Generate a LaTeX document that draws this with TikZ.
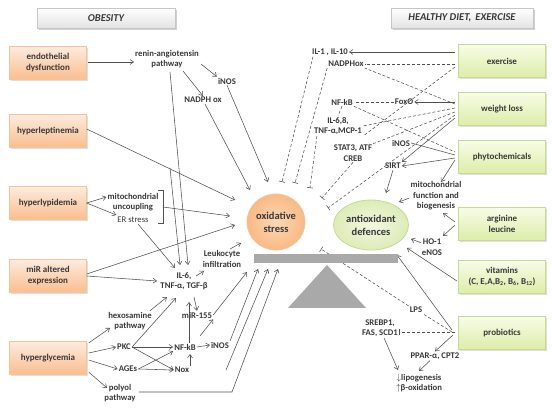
\documentclass[tikz,border=0pt]{standalone}
\usepackage{fontspec}
\setmainfont{Carlito}
\usetikzlibrary{arrows.meta,shadows,shapes.geometric}
\definecolor{txt}{HTML}{383838}
\definecolor{ln}{HTML}{505050}
\definecolor{orL}{HTML}{FDEBDD}
\definecolor{orD}{HTML}{F9BE8E}
\definecolor{orB}{HTML}{F3C39B}
\definecolor{grL}{HTML}{F7FCE8}
\definecolor{grD}{HTML}{DCEDA6}
\definecolor{grB}{HTML}{C6DA94}
\definecolor{osL}{HTML}{FCD8B8}
\definecolor{osD}{HTML}{F9B984}
\definecolor{adL}{HTML}{F2F8E0}
\definecolor{adD}{HTML}{DDEBB8}
\definecolor{beam}{HTML}{A9A9A9}
\tikzset{
  lbl/.style={font=\bfseries\fontsize{8.7}{10.5}\selectfont, text=txt, align=center, inner sep=1pt},
  obox/.style={lbl, font=\bfseries\fontsize{9}{11}\selectfont, draw=orB, top color=orL, bottom color=orD, minimum width=77pt, minimum height=33pt, drop shadow={opacity=0.25,shadow xshift=1.5pt,shadow yshift=-1.5pt}},
  gbox/.style={lbl, font=\bfseries\fontsize{9}{11}\selectfont, draw=grB, top color=grL, bottom color=grD, minimum width=87pt, minimum height=33pt, drop shadow={opacity=0.25,shadow xshift=1.5pt,shadow yshift=-1.5pt}},
  hdr/.style={font=\bfseries\itshape\fontsize{10.5}{12}\selectfont, text=txt, draw=gray!45, top color=white, bottom color=gray!22, minimum height=20pt, drop shadow={opacity=0.35,shadow xshift=1.5pt,shadow yshift=-2pt}},
  arr/.style={draw=ln, line width=0.55pt, -{Straight Barb[length=3.5pt,width=5pt]}},
  pl/.style={draw=ln, line width=0.55pt},
  dsh/.style={draw=ln, line width=0.55pt, dash pattern=on 3pt off 2pt},
  inh/.style={dsh, -{Bar[width=6pt,line width=0.55pt]}},
  ell/.style={lbl, ellipse, inner sep=0pt, line width=0.8pt, font=\bfseries\fontsize{10.5}{13}\selectfont},
}
\begin{document}
\begin{tikzpicture}[x=1pt,y=-1pt]
\useasboundingbox (0,0) rectangle (552,414);
\fill[white] (0,0) rectangle (552,414);

% headers
\node[hdr, minimum width=138pt] (hob) at (106,18) {OBESITY};
\node[hdr, minimum width=142pt] (hhd) at (462,18) {HEALTHY DIET,\, EXERCISE};

% left boxes
\node[obox] (e)   at (48,63)  {endothelial\\dysfunction};
\node[obox] (hl)  at (48,131) {hyperleptinemia};
\node[obox] (hp)  at (48,203) {hyperlypidemia};
\node[obox] (mir) at (48,276) {miR altered\\expression};
\node[obox] (hg)  at (48,358) {hyperglycemia};

% right boxes
\node[gbox] (ex)  at (502,61)  {exercise};
\node[gbox] (wl)  at (502,109) {weight loss};
\node[gbox] (ph)  at (502,157) {phytochemicals};
\node[gbox] (ar)  at (502,224) {arginine\\leucine};
\node[gbox] (vit) at (502,277) {vitamins\\(C, E,A,B\textsubscript{2}, B\textsubscript{6}, B\textsubscript{12})};
\node[gbox] (pr)  at (502,333) {probiotics};

% left labels
\node[lbl] (ra)    at (167,59)  {renin-angiotensin\\pathway};
\node[lbl] (inA)   at (227,81)  {iNOS};
\node[lbl] (naA)   at (203,100) {NADPH ox};
\node[lbl] (mu)    at (133,202) {mitochondrial\\uncoupling};
\node[lbl, font=\fontsize{8.7}{10.5}\selectfont] (er) at (133,220) {ER stress};
\node[lbl] (il6)   at (184,281) {IL-6,\\TNF-α, TGF-β};
\node[lbl] (leuk)  at (222,259) {Leukocyte\\infiltration};
\node[lbl] (hex)   at (130,321) {hexosamine\\pathway};
\node[lbl] (pkc)   at (124,347) {PKC};
\node[lbl] (ages)  at (128,369) {AGEs};
\node[lbl] (pol)   at (120,393) {polyol\\pathway};
\node[lbl] (nfA)   at (185,347) {NF-kB};
\node[lbl] (nox)   at (182,370) {Nox};
\node[lbl] (inB)   at (220,345) {iNOS};
\node[lbl] (m155)  at (197,315) {miR-155};

% right labels
\node[lbl] (il1)   at (330,52)  {IL-1 , IL-10};
\node[lbl] (naB)   at (346,64)  {NADPHox};
\node[lbl] (nfB)   at (342,102) {NF-kB};
\node[lbl] (foxo)  at (404,102) {FoxO};
\node[lbl] (il68)  at (338,126) {IL-6,8,\\TNF-α,MCP-1};
\node[lbl] (stat)  at (353,153) {STAT3, ATF\\CREB};
\node[lbl] (inC)   at (401,143) {iNOS};
\node[lbl] (sirt)  at (393,166) {SIRT};
\node[lbl] (mitf)  at (436,196) {mitochondrial\\function and\\biogenesis};
\node[lbl] (ho1)   at (432,247) {HO-1\\eNOS};
\node[lbl] (lps)   at (416,310) {LPS};
\node[lbl] (sreb)  at (380,328) {SREBP1,\\FAS, SCD1};
\node[lbl] (ppar)  at (435,356) {PPAR-α, CPT2};
\node[lbl] (lipo)  at (419,383) {$\downarrow$lipogenesis\\$\uparrow$β-oxidation};

% coordinates
\coordinate (osA) at (235,200);
\coordinate (osB) at (230,216);
\coordinate (osC) at (235,225);
\coordinate (osD) at (250,190);
\coordinate (osE) at (268,182);
\coordinate (osF) at (241,243);
\coordinate (bm1) at (247,272);
\coordinate (bm2) at (258,269);
\coordinate (bm3) at (268,269);
\coordinate (bm4) at (278,269);
\coordinate (br) at (162,207);
\coordinate (hlx) at (170,168);
\coordinate (polc) at (232,392);
\coordinate (ib1) at (282,182);
\coordinate (ib2) at (295,183);
\coordinate (ib3) at (310,188);
\coordinate (ib4) at (322,198);
\coordinate (ib5) at (328,208);
\coordinate (ib6) at (321,249);
\coordinate (adA) at (386,193);
\coordinate (adB) at (399,202);
\coordinate (adC) at (411,239);
\coordinate (adD) at (407,248);
\coordinate (adE) at (397,255);

% ---------- left connectors
\draw[arr] (88,62) -- (ra.west |- 0,62);
\draw[arr] (201,64) -- (inA.north west);
\draw[arr] (183,71) -- (naA.north);
\draw[arr] (170,72) -- (188,265);
\draw[arr] (hlx) -- (180,265);
\draw[arr] (naA.south) ++(2,0) -- (osD);
\draw[arr] (inA.south) -- (osE);
\draw[arr] (hl.east) ++(0,-2) -- (osA);
\draw[arr] (hp.east) -- (mu.west |- 0,197);
\draw[arr] (hp.east) -- (er.west |- 0,215);
\draw[pl] (158,190) -- (163,190) -- (163,223) -- (158,223);
\draw[arr] (br) ++(1,0) -- (osB);
\draw[arr] (er.south) ++(5,0) -- (175,268);
\draw[arr] (mir.east) ++(0,-2) -- (osC);
\draw[arr] (mir.east) -- (157,281);
\draw[arr] (196,276) -- (204,271);
\draw[arr] (230,249) -- (osF);

\draw[arr] (hg.east) ++(2,-15) -- (110,328);
\draw[arr] (hg.east) ++(2,-5) -- (pkc.west);
\draw[arr] (hg.east) ++(2,2) -- (ages.west);
\draw[arr] (hg.east) ++(2,14) -- (107,388);
\draw[arr] (hex.north east) ++(-3,0) -- (167,297);
\draw[arr] (pkc.east) -- (176,298);
\draw[arr] (pkc.east) -- (nfA.west);
\draw[arr] (pkc.east) -- (nox.west);
\draw[arr] (ages.east) -- (nfA.south west);
\draw[arr] (ages.east) -- (nox.west);
\draw[arr] (nox.north) ++(8,0) -- (190,354);
\draw[arr] (nfA.north) ++(4,0) -- (189,302);
\draw[arr] (nfA.east) -- (inB.west);
\draw[arr] (194,297) -- (m155.north);
\draw[arr] (200,336) -- (m155.south east);
\draw[arr] (m155.east) -- (bm1);
\draw[arr] (inB.north east) -- (bm2);
\draw[arr] (226,370) -- (bm3);
\draw[arr] (pol.east) ++(2,-1) -- (polc) -- (bm4);

% ---------- right connectors
\draw[arr] (455,52) -- (il1.east);
\draw[dsh] (455,64) -- (naB.east);
\draw[dsh] (455,67) -- (il68.south east);
\draw[dsh] (455,104) -- (naB.south east);
\draw[arr] (455,102) -- (foxo.east);
\draw[dsh] (foxo.west) -- (nfB.east);
\draw[dsh] (nfB.south) -- (il68.north);
\draw[dsh] (nfB.south east) -- (455,152);
\draw[dsh] (455,112) -- (stat.north east);
\draw[dsh] (455,108) -- (il68.east);
\draw[arr] (455,118) -- (sirt.north east);
\draw[inh] (455,115) -- (ib5);
\draw[arr] (455,158) -- (sirt.east);
\draw[pl] (455,155) -- (inC.east);
\draw[arr] (455,160) -- (441,182);
\draw[arr] (sirt.south) -- (adA);
\draw[arr] (mitf.west) ++(0,2) -- (adB);
\draw[arr] (455,222) -- (443,213);
\draw[arr] (455,225) -- (443,236);
\draw[arr] (ho1.north west) ++(0,5) -- (adC);
\draw[arr] (457,281) -- (adD);
\draw[arr] (452,330) -- (adE);
\draw[dsh] (452,332) -- (lps.south east);
\draw[inh] (lps.north west) -- (ib6);
\draw[inh] (455,332) -- (sreb.east |- 0,332);
\draw[arr] (453,335) -- (ppar.north);
\draw[arr] (sreb.south) ++(4,0) -- (398,370);
\draw[arr] (ppar.south) ++(-5,0) -- (419,371);

\draw[inh] (il1.south west) ++(2,0) -- (ib1);
\draw[inh] (naB.south west) -- (ib2);
\draw[inh] (il68.south west) ++(4,0) -- (ib3);
\draw[inh] (stat.south) -- (ib4);

% ---------- balance
\fill[beam] (254,254) rectangle (398,263);
\fill[beam] (288,308) -- (327,265) -- (366,308) -- cycle;
\node[ell, draw=orB, inner color=osL, outer color=osD, minimum width=58pt, minimum height=56pt] (os) at (276,222) {oxidative\\stress};
\node[ell, draw=grB, inner color=adL, outer color=adD, minimum width=75pt, minimum height=50pt] (ad) at (371,225) {antioxidant\\defences};
\end{tikzpicture}
\end{document}
